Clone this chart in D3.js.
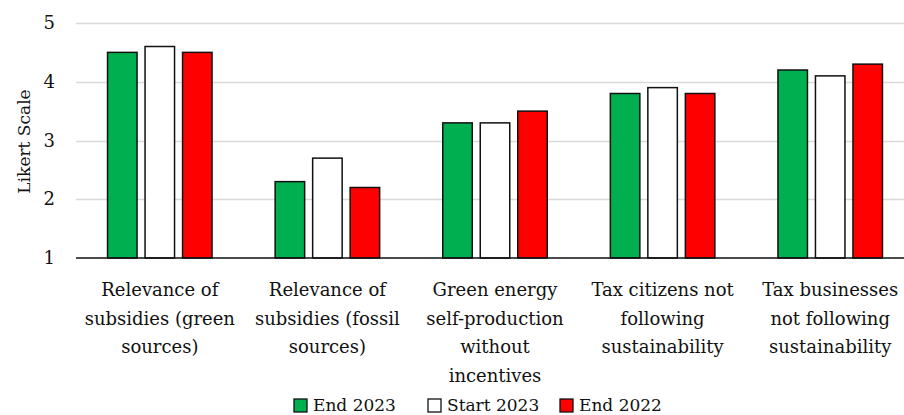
<!DOCTYPE html>
<html>
<head>
<meta charset="utf-8">
<script src="https://cdn.jsdelivr.net/npm/d3@7"></script>
<style>
  html, body { margin: 0; padding: 0; background: #fff; }
  svg { display: block; }
  text { font-family: "DejaVu Serif", "Liberation Serif", serif; fill: #111; }
</style>
</head>
<body>
<svg id="chart" width="904" height="415"></svg>
<script>
// Survey items (category labels, one line per array entry)
const categories = [
  ["Relevance of", "subsidies (green", "sources)"],
  ["Relevance of", "subsidies (fossil", "sources)"],
  ["Green energy", "self-production", "without", "incentives"],
  ["Tax citizens not", "following", "sustainability"],
  ["Tax businesses", "not following", "sustainability"]
];
const seriesNames = ["End 2023", "Start 2023", "End 2022"];
const seriesColors = ["#00B050", "#FFFFFF", "#FF0000"];
const end2023 = [4.5, 2.3, 3.3, 3.8, 4.2];
const start2023 = [4.6, 2.7, 3.3, 3.9, 4.1];
const end2022 = [4.5, 2.2, 3.5, 3.8, 4.3];
const yTicks = [1, 2, 3, 4, 5];
const yTitle = "Likert Scale";

const series = [end2023, start2023, end2022];

const svg = d3.select("#chart");
const plotLeft = 76, plotRight = 914, plotTop = 23, plotBottom = 258;

const x = d3.scaleBand().domain(d3.range(categories.length)).range([plotLeft, plotRight]).paddingInner(0).paddingOuter(0);
const y = d3.scaleLinear().domain([1, 5]).range([plotBottom, plotTop]);
const barW = 29.5, barStep = 37.5;

// horizontal gridlines
svg.append("g").selectAll("line").data(yTicks.slice(1)).join("line")
  .attr("x1", plotLeft).attr("x2", 904)
  .attr("y1", d => Math.round(y(d)) + 0.5).attr("y2", d => Math.round(y(d)) + 0.5)
  .attr("stroke", "#d9d9d9").attr("stroke-width", 1.3);

// y tick labels
svg.append("g").selectAll("text").data(yTicks).join("text")
  .attr("x", 55).attr("y", d => y(d) + 6)
  .attr("text-anchor", "end").attr("font-size", 18)
  .text(d => d);

// y axis title
svg.append("text")
  .attr("transform", `translate(30,${(plotTop + plotBottom) / 2 + 1}) rotate(-90)`)
  .attr("text-anchor", "middle").attr("font-size", 17)
  .text(yTitle);

// bars
series.forEach((vals, si) => {
  svg.append("g").selectAll("rect").data(vals).join("rect")
    .attr("x", (d, i) => x(i) + x.bandwidth() / 2 + (si - 1) * barStep - barW / 2)
    .attr("y", d => y(d))
    .attr("width", barW)
    .attr("height", d => y(1) - y(d))
    .attr("fill", seriesColors[si])
    .attr("stroke", "#111").attr("stroke-width", 1.5);
});

// baseline
svg.append("line")
  .attr("x1", plotLeft).attr("x2", 904)
  .attr("y1", y(1)).attr("y2", y(1))
  .attr("stroke", "#111").attr("stroke-width", 1.5);

// category labels
const lab = svg.append("g").selectAll("text").data(categories).join("text")
  .attr("text-anchor", "middle").attr("font-size", 18);
lab.each(function(lines, i) {
  d3.select(this).selectAll("tspan").data(lines).join("tspan")
    .attr("x", x(i) + x.bandwidth() / 2)
    .attr("y", (d, j) => 296 + j * 28.5)
    .text(d => d);
});

// legend
const legendX = [294, 428, 560];
const leg = svg.append("g").selectAll("g").data(seriesNames).join("g")
  .attr("transform", (d, i) => `translate(${legendX[i]},399)`);
leg.append("rect").attr("width", 13).attr("height", 13)
  .attr("fill", (d, i) => seriesColors[i]).attr("stroke", "#111").attr("stroke-width", 1.3);
leg.append("text").attr("x", 19).attr("y", 12).attr("font-size", 17).text(d => d);
</script>
</body>
</html>
